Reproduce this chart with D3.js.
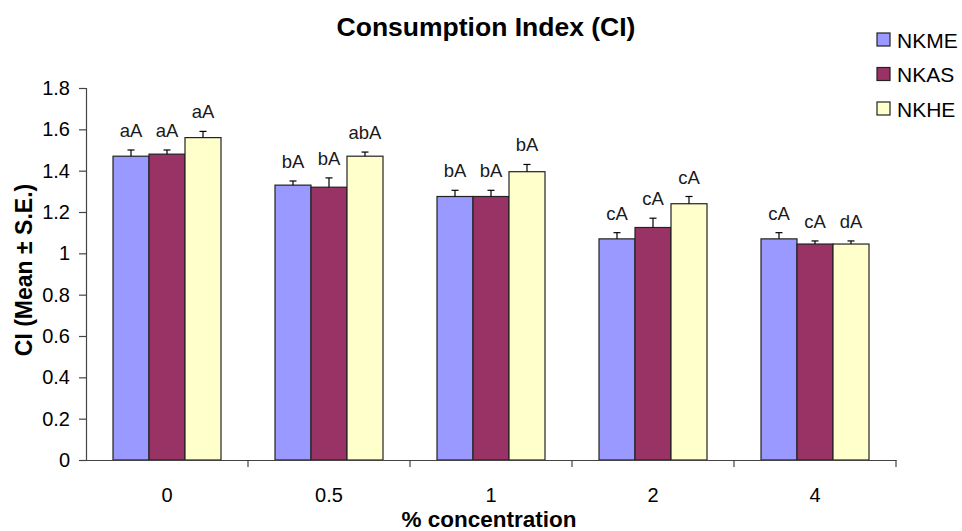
<!DOCTYPE html>
<html>
<head>
<meta charset="utf-8">
<script src="https://cdn.jsdelivr.net/npm/d3@7"></script>
<style>
  html, body { margin: 0; padding: 0; background: #fff; }
  svg { display: block; font-family: "Liberation Sans", Arial, sans-serif; }
</style>
</head>
<body>
<svg id="chart" width="962" height="531"></svg>
<script>
// ---- data ----
const categories = ["0", "0.5", "1", "2", "4"];
const seriesNames = ["NKME", "NKAS", "NKHE"];
const seriesColors = ["#9999FF", "#993366", "#FFFFCC"];
const NKME = [1.47, 1.33, 1.275, 1.07, 1.07];
const NKAS = [1.48, 1.32, 1.275, 1.125, 1.045];
const NKHE = [1.56, 1.47, 1.395, 1.24, 1.045];
const NKME_se = [0.03, 0.02, 0.03, 0.03, 0.03];
const NKAS_se = [0.02, 0.045, 0.03, 0.045, 0.015];
const NKHE_se = [0.03, 0.02, 0.035, 0.035, 0.015];
const NKME_lbl = ["aA", "bA", "bA", "cA", "cA"];
const NKAS_lbl = ["aA", "bA", "bA", "cA", "cA"];
const NKHE_lbl = ["aA", "abA", "bA", "cA", "dA"];
const yTicks = [0, 0.2, 0.4, 0.6, 0.8, 1, 1.2, 1.4, 1.6, 1.8];
const titleText = "Consumption Index (CI)";
const xTitle = "% concentration";
const yTitle = "CI (Mean \u00B1 S.E.)";

const values = [NKME, NKAS, NKHE];
const ses = [NKME_se, NKAS_se, NKHE_se];
const lbls = [NKME_lbl, NKAS_lbl, NKHE_lbl];

const rows = [];
categories.forEach((c, ci) => {
  seriesNames.forEach((s, si) => {
    rows.push({cat: c, series: s, si, v: values[si][ci], se: ses[si][ci], lbl: lbls[si][ci]});
  });
});

// ---- layout ----
const svg = d3.select("#chart");
const pLeft = 86, pRight = 896, pTop = 88, pBottom = 460;

const x0 = d3.scaleBand().domain(categories).range([pLeft, pRight]).padding(0);
const x1 = d3.scaleBand().domain(seriesNames).range([0, x0.bandwidth()]).paddingInner(0).paddingOuter(0.75);
const y = d3.scaleLinear().domain([0, 1.8]).range([pBottom, pTop]);
const color = d3.scaleOrdinal().domain(seriesNames).range(seriesColors);

// title
svg.append("text")
  .attr("x", 486).attr("y", 36)
  .attr("text-anchor", "middle")
  .attr("font-size", 26.5).attr("font-weight", "bold")
  .attr("fill", "#000")
  .text(titleText);

// bars
const g = svg.append("g");
g.selectAll("rect.bar").data(rows).enter().append("rect")
  .attr("class", "bar")
  .attr("x", d => x0(d.cat) + x1(d.series))
  .attr("y", d => y(d.v))
  .attr("width", x1.bandwidth())
  .attr("height", d => y(0) - y(d.v))
  .attr("fill", d => color(d.series))
  .attr("stroke", "#222").attr("stroke-width", 1.2);

// error bars (upper only)
const eb = g.selectAll("g.err").data(rows).enter().append("g").attr("class", "err");
eb.append("line")
  .attr("x1", d => x0(d.cat) + x1(d.series) + x1.bandwidth() / 2)
  .attr("x2", d => x0(d.cat) + x1(d.series) + x1.bandwidth() / 2)
  .attr("y1", d => y(d.v)).attr("y2", d => y(d.v + d.se))
  .attr("stroke", "#000").attr("stroke-width", 1.2);
eb.append("line")
  .attr("x1", d => x0(d.cat) + x1(d.series) + x1.bandwidth() / 2 - 3.5)
  .attr("x2", d => x0(d.cat) + x1(d.series) + x1.bandwidth() / 2 + 3.5)
  .attr("y1", d => y(d.v + d.se)).attr("y2", d => y(d.v + d.se))
  .attr("stroke", "#000").attr("stroke-width", 1.2);

// letter labels
g.selectAll("text.lbl").data(rows).enter().append("text")
  .attr("class", "lbl")
  .attr("x", d => x0(d.cat) + x1(d.series) + x1.bandwidth() / 2)
  .attr("y", d => y(d.v + d.se) - 13)
  .attr("text-anchor", "middle")
  .attr("font-size", 18.5)
  .attr("fill", "#1a1a1a")
  .text(d => d.lbl);

// y axis
const yAxis = d3.axisLeft(y).tickValues(yTicks).tickSize(7).tickPadding(9)
  .tickFormat(d3.format("~g"));
const ya = svg.append("g").attr("transform", `translate(${pLeft},0)`).call(yAxis);
ya.select(".domain").attr("stroke", "#444").attr("stroke-width", 1.2);
ya.selectAll(".tick line").attr("stroke", "#444").attr("stroke-width", 1.2);
ya.selectAll(".tick text").attr("font-size", 20).attr("fill", "#000")
  .attr("font-family", "'Liberation Sans', Arial, sans-serif");

// x axis
const xAxis = d3.axisBottom(x0).tickSize(0).tickPadding(28);
const xa = svg.append("g").attr("transform", `translate(0,${pBottom})`).call(xAxis);
xa.select(".domain").attr("stroke", "#444").attr("stroke-width", 1.2);
xa.selectAll(".tick text").attr("font-size", 20).attr("fill", "#000")
  .attr("font-family", "'Liberation Sans', Arial, sans-serif");
// boundary ticks between categories
xa.selectAll("line.sep").data(categories).enter().append("line")
  .attr("class", "sep")
  .attr("x1", d => x0(d) + x0.bandwidth()).attr("x2", d => x0(d) + x0.bandwidth())
  .attr("y1", 0).attr("y2", 7)
  .attr("stroke", "#444").attr("stroke-width", 1.2);

// axis titles
svg.append("text")
  .attr("x", (pLeft + pRight) / 2 - 2).attr("y", 527)
  .attr("text-anchor", "middle")
  .attr("font-size", 22.5).attr("font-weight", "bold")
  .text(xTitle);
svg.append("text")
  .attr("transform", `translate(32,${(pTop + pBottom) / 2 - 4}) rotate(-90)`)
  .attr("text-anchor", "middle")
  .attr("font-size", 23).attr("font-weight", "bold")
  .text(yTitle);

// legend
const leg = svg.append("g").selectAll("g").data(seriesNames).enter().append("g")
  .attr("transform", (d, i) => `translate(877,${33 + i * 34.5})`);
leg.append("rect").attr("width", 13).attr("height", 13)
  .attr("fill", d => color(d)).attr("stroke", "#222").attr("stroke-width", 1.2);
leg.append("text").attr("x", 20).attr("y", 14.5)
  .attr("font-size", 21).attr("fill", "#000")
  .text(d => d);
</script>
</body>
</html>
